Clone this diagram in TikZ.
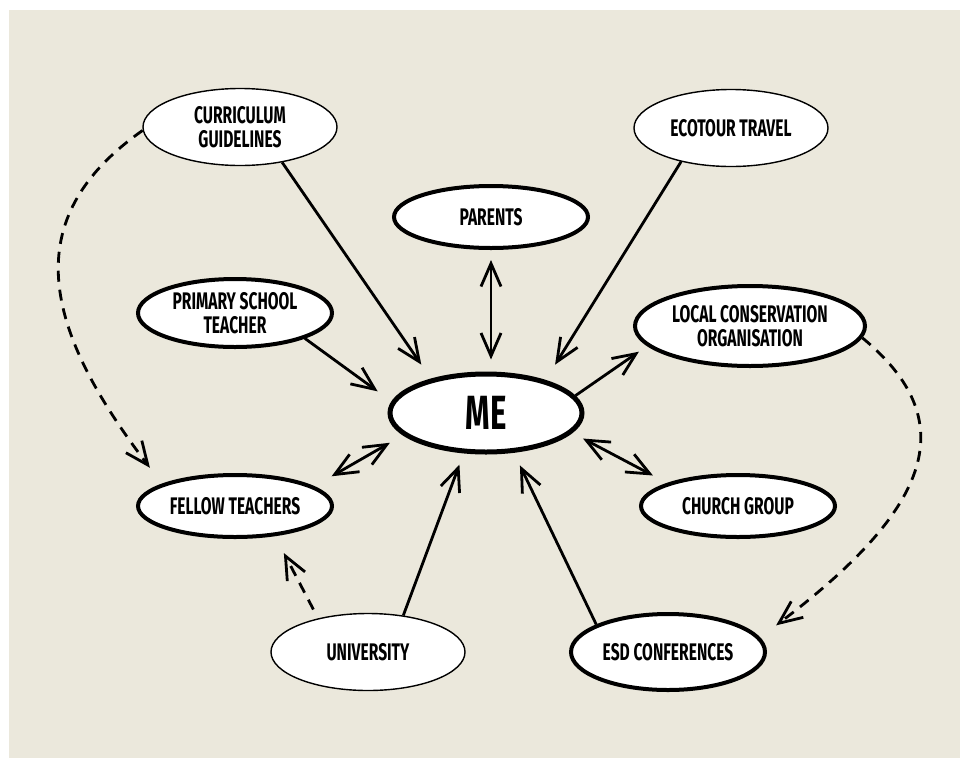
\documentclass[tikz,border=0pt]{standalone}
\usepackage{fontspec}
\setmainfont{Fira Sans}[FakeStretch=0.65]
\usetikzlibrary{shapes.geometric, arrows.meta}
\definecolor{paper}{HTML}{EBE8DC}
\newcommand{\labelsize}{\fontsize{24}{24}\selectfont\bfseries}
\tikzstyle{faint} = [ellipse, draw=black, line width=1.4pt, fill=white, minimum width=194pt, minimum height=77pt, inner sep=0pt, align=center, font=\labelsize]
\tikzstyle{strong} = [ellipse, draw=black, line width=4pt, fill=white, minimum width=194pt, minimum height=62pt, inner sep=0pt, align=center, font=\labelsize]
\tikzstyle{self} = [ellipse, draw=black, line width=5pt, fill=white, minimum width=192pt, minimum height=78pt, inner sep=0pt, font=\fontsize{48}{50}\selectfont\bfseries]
\tikzstyle{arrow} = [line width=2.8pt, -{Straight Barb[length=23pt, width=20pt]}]
\tikzstyle{twoway} = [line width=2.8pt, {Straight Barb[length=23pt, width=20pt]}-{Straight Barb[length=23pt, width=20pt]}]
\tikzstyle{dasharrow} = [arrow, dash pattern=on 11pt off 8pt]

\begin{document}
\begin{tikzpicture}[x=1pt, y=-1pt]
		\useasboundingbox (0,0) rectangle (960,758);
		\fill[paper] (9,10) rectangle (960,758);

		\node (me) [self] at (486,413) {ME};
		\node (curriculum) [faint] at (240,127) {CURRICULUM\\GUIDELINES};
		\node (ecotour) [faint] at (731,128) {ECOTOUR TRAVEL};
		\node (parents) [strong] at (491,217) {PARENTS};
		\node (primary) [strong, minimum height=68pt] at (235,313) {PRIMARY SCHOOL\\TEACHER};
		\node (local) [strong, minimum width=230pt, minimum height=80pt] at (750,326) {LOCAL CONSERVATION\\ORGANISATION};
		\node (fellow) [strong] at (235,506) {FELLOW TEACHERS};
		\node (church) [strong] at (738,506) {CHURCH GROUP};
		\node (university) [faint] at (368,652) {UNIVERSITY};
		\node (esd) [strong, minimum height=76pt] at (668,652) {ESD CONFERENCES};

		\draw [arrow, shorten >=17pt] (curriculum.-40) -- (me.148);
		\draw [twoway, shorten <=10pt, shorten >=12pt] (parents.south) -- (parents.south |- me.north);
		\draw [arrow, shorten >=18pt] (ecotour.214) -- (me.29);
		\draw [arrow, shorten >=17pt] (primary.-20) -- (me.173);
		\draw [arrow, shorten >=10pt] (me.11) -- (local.191);
		\draw [twoway, shorten <=15pt, shorten >=20pt] (me.195) -- (fellow.14);
		\draw [twoway, shorten <=12pt, shorten >=16pt] (me.-13) -- (church.162);
		\draw [arrow, shorten >=12pt] (university.46) -- (me.-119);
		\draw [arrow, shorten >=14pt] (esd.159) -- (me.-55);

		\draw [dasharrow, shorten >=20pt] (curriculum.182) .. controls (15,220) and (45,330) .. (fellow.163);
		\draw [dasharrow, shorten >=20pt] (local.-6) .. controls (962,420) and (934,506) .. (esd.9);
		\draw [dasharrow, shorten <=10pt, shorten >=19pt] (university.146) -- (fellow.-37);
	\end{tikzpicture}
\end{document}
